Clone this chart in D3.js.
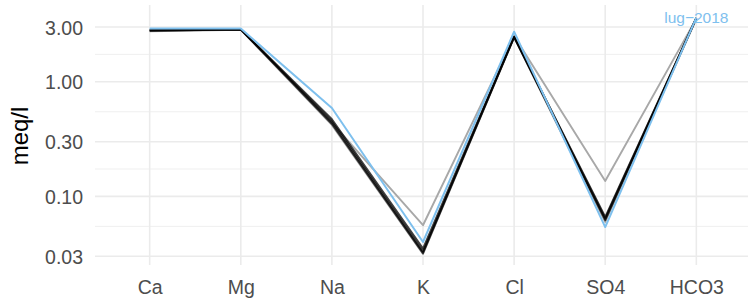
<!DOCTYPE html>
<html>
<head>
<meta charset="utf-8">
<script src="https://cdn.jsdelivr.net/npm/d3@7"></script>
<style>
  body { margin: 0; background: #fff; }
  text { font-family: "Liberation Sans", Arial, sans-serif; }
</style>
</head>
<body>
<svg class="chart"></svg>
<script>
// ions on the x axis
var ions = ["Ca", "Mg", "Na", "K", "Cl", "SO4", "HCO3"];

// older samples (drawn in black / grey)
var oldLight = [2.84, 2.87, 0.44, 0.056, 2.50, 0.136, 3.55];
var old1 = [2.80, 2.86, 0.47, 0.035, 2.48, 0.064, 3.60];
var old2 = [2.78, 2.85, 0.45, 0.033, 2.45, 0.062, 3.58];
var old3 = [2.82, 2.87, 0.43, 0.032, 2.46, 0.066, 3.60];
var old4 = [2.76, 2.84, 0.42, 0.0315, 2.44, 0.060, 3.55];

// latest sample
var lastLabel = "lug\u22122018";
var last = [2.92, 2.91, 0.59, 0.040, 2.73, 0.054, 3.62];

var yTicks = [3, 1, 0.3, 0.1, 0.03];

var W = 748, H = 302;
var svg = d3.select(".chart")
    .attr("width", W)
    .attr("height", H);

var x = d3.scalePoint()
    .domain(ions)
    .range([95, 751])
    .padding(0.6);

var y = d3.scaleLog()
    .domain([0.0252, 4.67])
    .range([265, 5]);

// minor breaks sit halfway between the major ones (in log space)
var minor = d3.pairs(yTicks).map(function(p) { return Math.sqrt(p[0] * p[1]); });

var grid = svg.append("g");
grid.selectAll(".minor")
    .data(minor)
  .enter().append("line")
    .attr("x1", 95).attr("x2", W)
    .attr("y1", d => y(d)).attr("y2", d => y(d))
    .attr("stroke", "#ebebeb")
    .attr("stroke-width", 0.8);
grid.selectAll(".major")
    .data(yTicks)
  .enter().append("line")
    .attr("x1", 95).attr("x2", W)
    .attr("y1", d => y(d)).attr("y2", d => y(d))
    .attr("stroke", "#ebebeb")
    .attr("stroke-width", 1.6);
grid.selectAll(".vert")
    .data(ions)
  .enter().append("line")
    .attr("x1", d => x(d)).attr("x2", d => x(d))
    .attr("y1", 5).attr("y2", 265)
    .attr("stroke", "#ebebeb")
    .attr("stroke-width", 1.6);

// axes (text only, like theme_minimal)
var yAxis = svg.append("g")
    .attr("transform", "translate(88,0)")
    .call(d3.axisLeft(y).tickValues(yTicks).tickFormat(d3.format(".2f")).tickSize(0).tickPadding(5));
var xAxis = svg.append("g")
    .attr("transform", "translate(0,274)")
    .call(d3.axisBottom(x).tickSize(0).tickPadding(6));
[yAxis, xAxis].forEach(function(a) {
  a.select(".domain").remove();
  a.selectAll("text")
    .attr("fill", "#4d4d4d")
    .style("font-size", "19.5px")
    .style("font-family", "Liberation Sans, Arial, sans-serif");
});
yAxis.selectAll("text").attr("dy", "0.36em");
xAxis.selectAll("text").attr("dy", "0.72em");

svg.append("text")
    .attr("transform", "translate(28,136) rotate(-90)")
    .attr("text-anchor", "middle")
    .style("font-size", "24px")
    .attr("fill", "#000")
    .text("meq/l");

var line = d3.line()
    .x((d, i) => x(ions[i]))
    .y(d => y(d));

var lines = svg.append("g").attr("fill", "none").attr("stroke-linejoin", "round");

lines.append("path")
    .attr("d", line(oldLight))
    .attr("stroke", "#a8a8a8")
    .attr("stroke-width", 1.9);

[old4, old3, old2, old1].forEach(function(s, i) {
  lines.append("path")
      .attr("d", line(s))
      .attr("stroke", i == 0 ? "#666" : "#000")
      .attr("stroke-opacity", i == 0 ? 0.6 : 0.75)
      .attr("stroke-width", 2);
});

lines.append("path")
    .attr("d", line(last))
    .attr("stroke", "#7ec0ee")
    .attr("stroke-width", 2);

// label at the last point of the latest sample
svg.append("text")
    .attr("x", x(ions[ions.length - 1]))
    .attr("y", y(last[last.length - 1]))
    .attr("dy", "0.35em")
    .attr("text-anchor", "middle")
    .attr("fill", "#7ec0ee")
    .style("font-size", "15.5px")
    .text(lastLabel);
</script>
</body>
</html>
